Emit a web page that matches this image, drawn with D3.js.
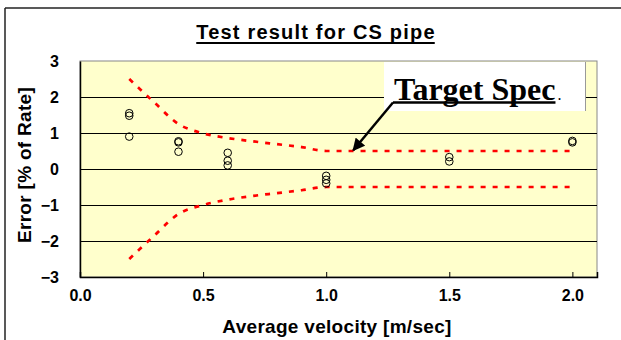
<!DOCTYPE html>
<html>
<head>
<meta charset="utf-8">
<script src="https://cdn.jsdelivr.net/npm/d3@7"></script>
<style>
  html, body { margin: 0; padding: 0; background: #fff; }
  svg { display: block; }
  text { font-family: "Liberation Sans", Arial, sans-serif; font-weight: bold; fill: #000; }
</style>
</head>
<body>
<svg id="chart" width="621" height="340"></svg>
<script>
// ---- data ----
const title = "Test result for CS pipe";
const xLabel = "Average velocity [m/sec]";
const yLabel = "Error [% of Rate]";
const xTicks = [0.0, 0.5, 1.0, 1.5, 2.0];
const yTicks = [-3, -2, -1, 0, 1, 2, 3];
// measured points: velocity and error
const pointVelocity = [0.2, 0.2, 0.2, 0.4, 0.4, 0.4, 0.6, 0.6, 0.6, 1.0, 1.0, 1.0, 1.5, 1.5, 2.0, 2.0];
const pointError    = [1.55, 1.48, 0.90, 0.77, 0.74, 0.48, 0.45, 0.23, 0.10, -0.19, -0.30, -0.40, 0.33, 0.21, 0.78, 0.74];
// target spec limits
const specVelocity = [0.2, 0.3, 0.4, 0.5, 0.6, 0.7, 0.8, 0.9, 1.0, 1.5, 2.0];
const specUpper    = [2.5, 1.86, 1.25, 0.99, 0.86, 0.77, 0.69, 0.61, 0.5, 0.5, 0.5];
const specLower    = [-2.5, -1.86, -1.25, -1.0, -0.85, -0.75, -0.67, -0.59, -0.5, -0.5, -0.5];
const annotation = "Target Spec";

// ---- layout ----
const svg = d3.select("#chart");
const L = 80, R = 597, T = 61, B = 277;
const x = d3.scaleLinear().domain([0, 2.1]).range([L, R]);
const y = d3.scaleLinear().domain([-3, 3]).range([B, T]);

// outer frame
svg.append("line").attr("x1", 5).attr("x2", 5).attr("y1", 8).attr("y2", 345)
  .attr("stroke", "#222").attr("stroke-width", 1.5);
svg.append("line").attr("x1", 5).attr("x2", 625).attr("y1", 8).attr("y2", 8)
  .attr("stroke", "#222").attr("stroke-width", 1.5);

// plot background
svg.append("rect").attr("x", L).attr("y", T).attr("width", R - L).attr("height", B - T)
  .attr("fill", "#FFFFCC").attr("stroke", "#888").attr("stroke-width", 1);

// gridlines
svg.append("g").selectAll("line").data(yTicks.filter(d => d > -3 && d < 3)).join("line")
  .attr("x1", L).attr("x2", R).attr("y1", d => Math.round(y(d)) + 0.5).attr("y2", d => Math.round(y(d)) + 0.5)
  .attr("stroke", "#000").attr("stroke-width", 1);

// axes
const xAxis = d3.axisBottom(x).tickValues(xTicks).tickSize(-5).tickPadding(13).tickFormat(d3.format(".1f"));
const gx = svg.append("g").attr("transform", `translate(0,${B})`).call(xAxis);
gx.select(".domain").attr("stroke", "#000").attr("stroke-width", 1.5);
gx.selectAll(".tick line").attr("stroke", "#000");
gx.selectAll("text").attr("font-size", 16).attr("fill", "#000")
  .attr("font-family", "Liberation Sans, Arial, sans-serif").attr("font-weight", "bold");

const yAxis = d3.axisLeft(y).tickValues(yTicks).tickSize(0).tickPadding(21).tickFormat(d3.format("d"));
const gy = svg.append("g").attr("transform", `translate(${L},0)`).call(yAxis);
gy.select(".domain").attr("stroke", "#000").attr("stroke-width", 1.5);
gy.selectAll("text").attr("font-size", 16).attr("fill", "#000")
  .attr("font-family", "Liberation Sans, Arial, sans-serif").attr("font-weight", "bold");

// spec lines
const line = d3.line().x(d => x(d[0])).y(d => y(d[1])).curve(d3.curveMonotoneX);
[specUpper, specLower].forEach(arr => {
  svg.append("path").datum(specVelocity.map((v, i) => [v, arr[i]]))
    .attr("d", line).attr("fill", "none").attr("stroke", "#FF0000")
    .attr("stroke-width", 2.7).attr("stroke-dasharray", "5,7");
});

// data points
svg.append("g").selectAll("circle").data(pointVelocity.map((v, i) => [v, pointError[i]])).join("circle")
  .attr("cx", d => x(d[0])).attr("cy", d => y(d[1])).attr("r", 3.8)
  .attr("fill", "none").attr("stroke", "#000").attr("stroke-width", 1);

// annotation box
svg.append("rect").attr("x", 384).attr("y", 62).attr("width", 201).attr("height", 49).attr("fill", "#fff");
svg.append("line").attr("x1", 585.5).attr("x2", 585.5).attr("y1", 62).attr("y2", 111).attr("stroke", "#999");
const ann = svg.append("text").attr("x", 394).attr("y", 100)
  .style("font-family", "'Liberation Serif', 'Times New Roman', serif").attr("font-size", 32);
ann.append("tspan").text(annotation);
ann.append("tspan").text(".").attr("font-size", 16).attr("font-weight", "normal").attr("dx", 2);
const annW = ann.select("tspan").node().getComputedTextLength();
svg.append("line").attr("x1", 393).attr("x2", 394 + annW).attr("y1", 102.5).attr("y2", 102.5)
  .attr("stroke", "#000").attr("stroke-width", 2.5);

// arrow
svg.append("defs").append("marker").attr("id", "ah").attr("viewBox", "0 0 10 10")
  .attr("refX", 9).attr("refY", 5).attr("markerWidth", 5.5).attr("markerHeight", 5)
  .attr("orient", "auto").attr("markerUnits", "strokeWidth")
  .append("path").attr("d", "M0,0 L10,5 L0,10 Z").attr("fill", "#000");
svg.append("line").attr("x1", 393).attr("y1", 102.5).attr("x2", x(1.11)).attr("y2", y(0.52))
  .attr("stroke", "#000").attr("stroke-width", 2.5).attr("marker-end", "url(#ah)");

// title
const tt = svg.append("text").attr("x", 316).attr("y", 39).attr("text-anchor", "middle")
  .attr("font-size", 20).style("letter-spacing", "1.2px").text(title);
const tb = tt.node().getBBox();
svg.append("line").attr("x1", tb.x).attr("x2", tb.x + tb.width - 1).attr("y1", 43).attr("y2", 43)
  .attr("stroke", "#000").attr("stroke-width", 2);

// axis titles
svg.append("text").attr("x", 337).attr("y", 333).attr("text-anchor", "middle")
  .attr("font-size", 19).style("letter-spacing", "0.3px").text(xLabel);
svg.append("text").attr("transform", "translate(31,165) rotate(-90)").attr("text-anchor", "middle")
  .attr("font-size", 19).style("letter-spacing", "0.3px").text(yLabel);
</script>
</body>
</html>
